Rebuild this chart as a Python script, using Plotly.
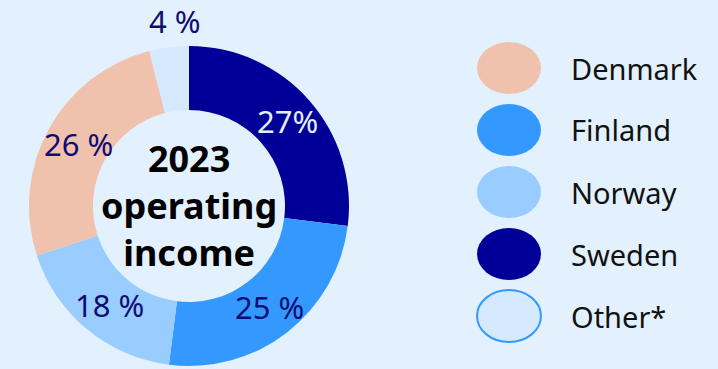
import math
import plotly.graph_objects as go

# Share of 2023 operating income by country, clockwise from 12 o'clock
countries = ["Sweden", "Finland", "Norway", "Denmark", "Other*"]
shares = [27, 25, 18, 26, 4]
slice_colors = ["#000099", "#3399ff", "#99ccff", "#f0c2ae", "#d6eaff"]
label_formats = ["{}%", "{} %", "{} %", "{} %", "{} %"]
label_colors = ["#e3f1fe", "#0d0d73", "#0d0d73", "#0d0d73", "#0d0d73"]
label_outside = [False, False, False, False, True]

# Legend order
legend_names = ["Denmark", "Finland", "Norway", "Sweden", "Other*"]

W, H = 718, 369
BG = "#e3f1fe"
FONT = "Noto Sans"

# Donut geometry in pixels
CX, CY, R_OUT, HOLE = 189, 206, 160, 0.6
R_IN = R_OUT * HOLE

fig = go.Figure()

fig.add_trace(go.Pie(
    labels=countries,
    values=shares,
    sort=False,
    direction="clockwise",
    rotation=0,
    hole=HOLE,
    marker=dict(colors=slice_colors, line=dict(width=0)),
    textinfo="none",
    domain=dict(x=[(CX - R_OUT) / W, (CX + R_OUT) / W],
                y=[1 - (CY + R_OUT) / H, 1 - (CY - R_OUT) / H]),
    showlegend=False,
    hoverinfo="label+percent",
))

# Percentage labels at each slice's mid-angle
total = sum(shares)
cum = 0
for v, fmt, col, outside in zip(shares, label_formats, label_colors, label_outside):
    theta = 2 * math.pi * (cum + v / 2) / total
    cum += v
    r = R_OUT + 26 if outside else (R_IN + R_OUT) / 2
    px = CX + r * math.sin(theta)
    py = CY - r * math.cos(theta)
    fig.add_annotation(
        x=px / W, y=1 - py / H, xref="paper", yref="paper",
        text=fmt.format(v), showarrow=False,
        xanchor="center", yanchor="middle",
        xshift=9 if outside else 2,
        font=dict(family=FONT, size=31, color=col),
    )

# Title in the hole of the donut
fig.add_annotation(
    x=CX / W, y=1 - (CY - 1) / H, xref="paper", yref="paper",
    text="<b>2023<br>operating<br>income</b>",
    showarrow=False, align="center", xanchor="center", yanchor="middle",
    font=dict(family=FONT, size=36, color="#000000"),
)

# Legend: ellipse swatches with country names
color_of = dict(zip(countries, slice_colors))
row_y0, row_step = 68, 62
for i, name in enumerate(legend_names):
    cy = row_y0 + i * row_step
    outline = dict(color="#3399ff", width=2) if name == "Other*" else dict(width=0)
    fig.add_shape(
        type="circle", xref="paper", yref="paper",
        x0=477 / W, x1=541 / W,
        y0=1 - (cy + 26) / H, y1=1 - (cy - 26) / H,
        fillcolor=color_of[name], line=outline, layer="above",
    )
    fig.add_annotation(
        x=569 / W, y=1 - cy / H, xref="paper", yref="paper",
        text=name, showarrow=False, xanchor="left", yanchor="middle",
        font=dict(family=FONT, size=29, color="#111111"),
    )

fig.update_layout(
    width=W, height=H,
    margin=dict(l=0, r=0, t=0, b=0),
    paper_bgcolor=BG, plot_bgcolor=BG,
)

fig.write_html("out.html")
